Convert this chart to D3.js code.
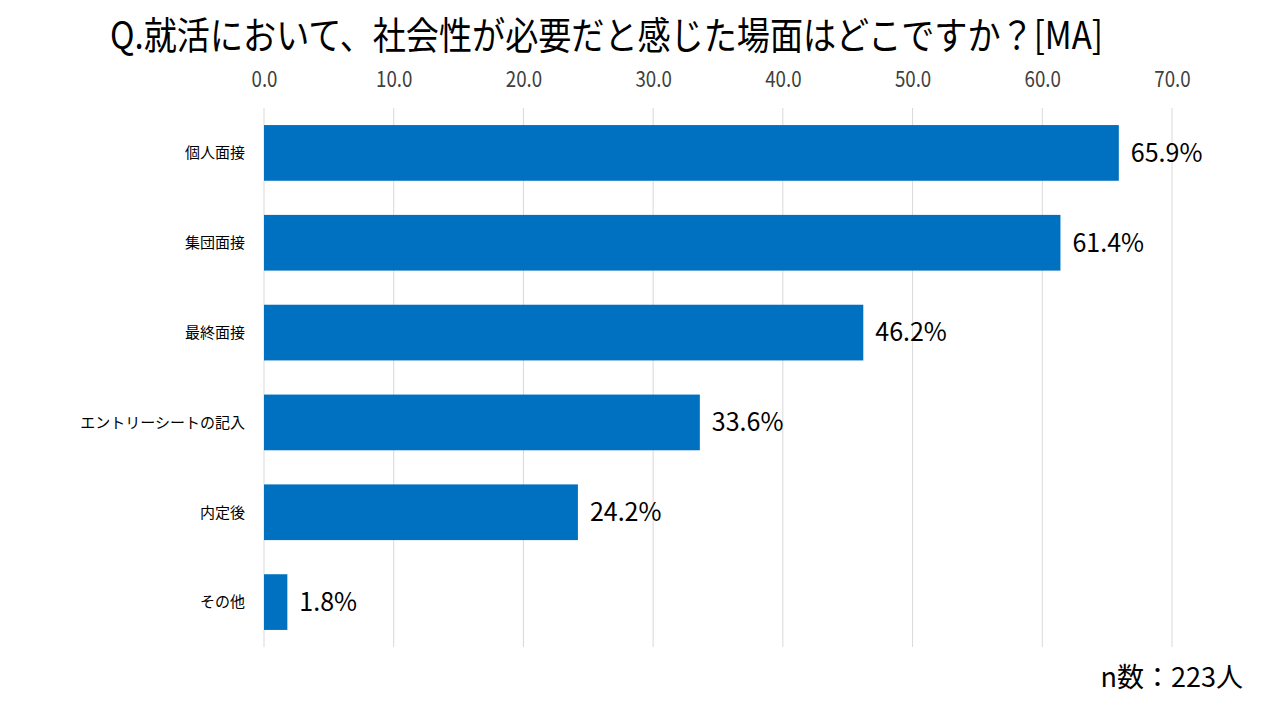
<!DOCTYPE html>
<html lang="ja">
<head>
    <meta charset="utf-8">
    <title>社会性が必要だと感じた場面</title>
    <script src="https://d3js.org/d3.v7.min.js" charset="utf-8"></script>
    <style type="text/css">
        body {
            margin: 0;
            background: #fff;
            font-family: "Noto Sans CJK JP", "Noto Sans", sans-serif;
        }
    </style>
</head>
<body>
    <script type="text/javascript">
        // data
        var categories = ["個人面接", "集団面接", "最終面接", "エントリーシートの記入", "内定後", "その他"];
        var values = [65.9, 61.4, 46.2, 33.6, 24.2, 1.8];
        var tickValues = [0, 10, 20, 30, 40, 50, 60, 70];
        var title = "Q.就活において、社会性が必要だと感じた場面はどこですか？[MA]";
        var note = "n数：223人";

        var width = 1280;
        var height = 720;
        var plotLeft = 264, plotRight = 1172;
        var plotTop = 108, plotBottom = 647;

        var svg = d3.select("body")
                    .append("svg")
                    .attr("width", width)
                    .attr("height", height);

        var x = d3.scaleLinear().domain([0, 70]).range([plotLeft, plotRight]);
        var y = d3.scaleBand().domain(categories).range([plotTop, plotBottom]).paddingInner(0.38).paddingOuter(0.19);

        // title
        svg.append("text")
            .attr("x", 110)
            .attr("y", 49)
            .attr("font-size", "38px")
            .attr("textLength", 993)
            .attr("lengthAdjust", "spacingAndGlyphs")
            .attr("fill", "#000")
            .text(title);

        // gridlines
        svg.selectAll("line.grid")
            .data(tickValues)
            .enter()
            .append("line")
            .attr("class", "grid")
            .attr("x1", function(d) { return x(d); })
            .attr("x2", function(d) { return x(d); })
            .attr("y1", plotTop)
            .attr("y2", plotBottom)
            .attr("stroke", "#d9d9d9")
            .attr("stroke-width", 1);

        // top axis labels
        var axis = svg.append("g")
            .attr("transform", "translate(0," + 87 + ")")
            .call(d3.axisTop(x).tickValues(tickValues).tickSize(0).tickPadding(0).tickFormat(d3.format(".1f")));
        axis.select(".domain").remove();
        axis.selectAll(".tick text")
            .attr("font-family", "'Noto Sans CJK JP', sans-serif")
            .attr("font-size", "22px")
            .attr("fill", "#404040")
            .attr("transform", "scale(0.85,1)");

        // bars
        svg.selectAll("rect.bar")
            .data(values)
            .enter()
            .append("rect")
            .attr("class", "bar")
            .attr("x", x(0))
            .attr("y", function(d, i) { return y(categories[i]); })
            .attr("width", function(d) { return x(d) - x(0); })
            .attr("height", y.bandwidth())
            .attr("fill", "#0070c0");

        // category labels
        svg.selectAll("text.cat")
            .data(categories)
            .enter()
            .append("text")
            .attr("class", "cat")
            .attr("x", 245)
            .attr("y", function(d) { return y(d) + y.bandwidth() / 2; })
            .attr("dy", "0.35em")
            .attr("text-anchor", "end")
            .attr("font-size", "15px")
            .attr("fill", "#000")
            .text(function(d) { return d; });

        // value labels
        svg.selectAll("text.val")
            .data(values)
            .enter()
            .append("text")
            .attr("class", "val")
            .attr("x", function(d) { return x(d) + 12; })
            .attr("y", function(d, i) { return y(categories[i]) + y.bandwidth() / 2; })
            .attr("dy", "0.35em")
            .attr("font-family", "'Noto Sans CJK JP', sans-serif")
            .attr("font-size", "25px")
            .attr("fill", "#000")
            .text(function(d) { return d.toFixed(1) + "%"; });

        // sample size note
        svg.append("text")
            .attr("x", 1243)
            .attr("y", 687)
            .attr("text-anchor", "end")
            .attr("font-size", "27px")
            .attr("fill", "#000")
            .text(note);
    </script>
</body>
</html>
